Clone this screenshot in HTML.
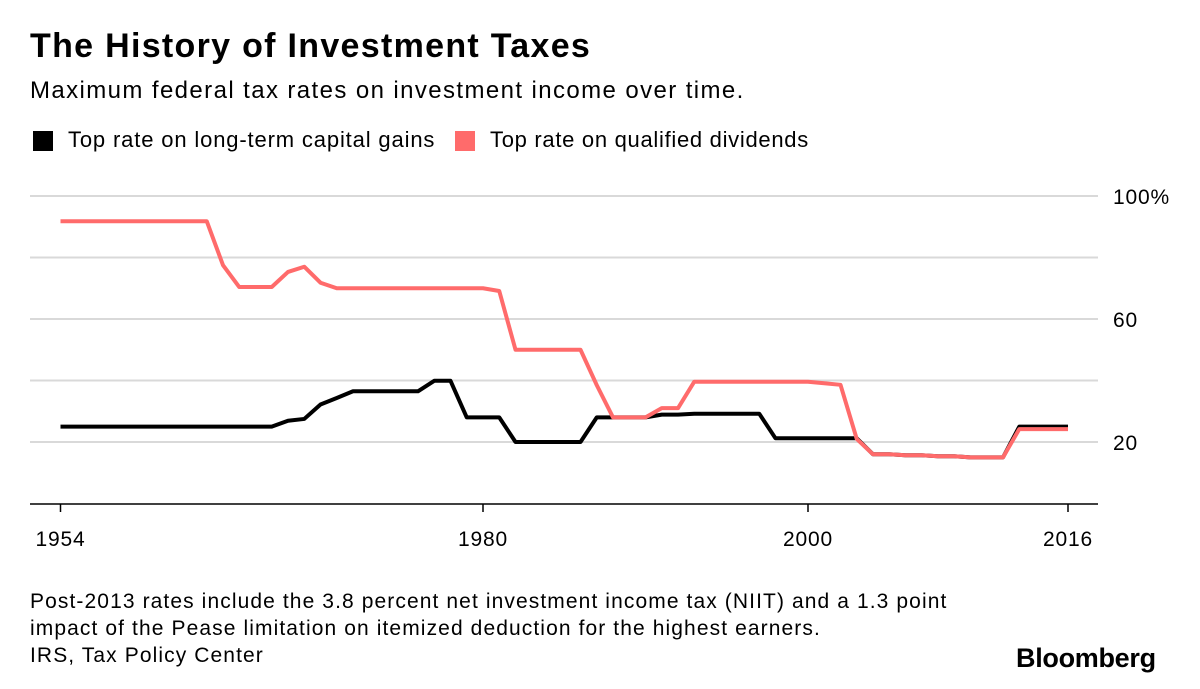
<!DOCTYPE html>
<html><head><meta charset="utf-8"><style>
body{margin:0;background:#fff;font-family:"Liberation Sans",Arial,sans-serif;}
#wrap{position:relative;width:1200px;height:689px;overflow:hidden;}
.t{position:absolute;white-space:nowrap;color:#000;}
</style></head><body>
<div id="wrap">
<div class="t" style="left:30px;top:27px;font-size:34px;letter-spacing:1.3px;font-weight:bold;">The History of Investment Taxes</div>
<div class="t" style="left:30px;top:77px;font-size:24px;letter-spacing:1.4px;">Maximum federal tax rates on investment income over time.</div>
<div style="position:absolute;left:33px;top:131px;width:20px;height:20px;background:#000;"></div>
<div class="t" style="left:68px;top:127px;font-size:22px;letter-spacing:0.85px;">Top rate on long-term capital gains</div>
<div style="position:absolute;left:455px;top:131px;width:20px;height:20px;background:#ff6b6b;"></div>
<div class="t" style="left:490px;top:127px;font-size:22px;letter-spacing:0.7px;">Top rate on qualified dividends</div>
<svg id="chart" width="1200" height="689" style="position:absolute;left:0;top:0;"></svg>
<div class="t" style="left:30px;top:588px;font-size:21px;letter-spacing:1.1px;line-height:27px;">Post-2013 rates include the 3.8 percent net investment income tax (NIIT) and a 1.3 point<br>impact of the Pease limitation on itemized deduction for the highest earners.<br>IRS, Tax Policy Center</div>
<div class="t" style="left:1016px;top:643px;font-size:27px;font-weight:bold;letter-spacing:-0.3px;">Bloomberg</div>
</div>
<script>
const years=[1954,1955,1956,1957,1958,1959,1960,1961,1962,1963,1964,1965,1966,1967,1968,1969,1970,1971,1972,1973,1974,1975,1976,1977,1978,1979,1980,1981,1982,1983,1984,1985,1986,1987,1988,1989,1990,1991,1992,1993,1994,1995,1996,1997,1998,1999,2000,2001,2002,2003,2004,2005,2006,2007,2008,2009,2010,2011,2012,2013,2014,2015,2016];
const capitalGains=[25,25,25,25,25,25,25,25,25,25,25,25,25,25,26.9,27.5,32.2,34.3,36.5,36.5,36.5,36.5,36.5,39.9,39.9,28,28,28,20,20,20,20,20,28,28,28,28,28.9,28.9,29.2,29.2,29.2,29.2,29.2,21.2,21.2,21.2,21.2,21.2,21.2,16,16,15.7,15.7,15.35,15.35,15,15,15,25,25,25,25];
const dividends=[91.8,91.8,91.8,91.8,91.8,91.8,91.8,91.8,91.8,91.8,77.5,70.4,70.4,70.4,75.3,77,71.8,70,70,70,70,70,70,70,70,70,70,69.1,50,50,50,50,50,38.5,28,28,28,31,31,39.6,39.6,39.6,39.6,39.6,39.6,39.6,39.6,39.1,38.6,21,16,16,15.7,15.7,15.35,15.35,15,15,15,24.2,24.2,24.2,24.2];
const yTicks=[20,40,60,80,100];
const yTickLabels=["20","","60","","100%"];
const xTicks=[1954,1980,2000,2016];
const NS="http://www.w3.org/2000/svg";
const svg=document.getElementById('chart');
const x=y=>60.5+(y-1954)*16.25;
const yS=v=>503.5-v*3.075;
function mk(tag,attrs){const e=document.createElementNS(NS,tag);for(const k in attrs)e.setAttribute(k,attrs[k]);svg.appendChild(e);return e;}
yTicks.forEach((t,i)=>{
  const l=mk('line',{x1:30,x2:1098,y1:yS(t),y2:yS(t),stroke:'#d9d9d9','stroke-width':2});
  
  
  if(yTickLabels[i]){
    const tx=mk('text',{x:1113,y:yS(t)+8,'font-size':21,'letter-spacing':0.8,'font-family':'Liberation Sans, sans-serif',fill:'#000'});
    tx.textContent=yTickLabels[i];
    
    
  }
});
const base=mk('line',{x1:30,x2:1098,y1:504,y2:504,stroke:'#000','stroke-width':1.5});


xTicks.forEach(t=>{
  const tk=mk('line',{x1:x(t),x2:x(t),y1:504,y2:512,stroke:'#000','stroke-width':1.5});
  
  
  const tx=mk('text',{x:x(t),y:546,'font-size':21,'letter-spacing':0.8,'text-anchor':'middle','font-family':'Liberation Sans, sans-serif',fill:'#000'});
  tx.textContent=t;
  
  
});
function line(vals,color,name){
  const p=mk('polyline',{points:vals.map((v,i)=>x(years[i])+','+yS(v)).join(' '),fill:'none',stroke:color,'stroke-width':4,'stroke-linejoin':'round'});
  
  
}
line(capitalGains,'#000','capital-gains-line');
line(dividends,'#ff6b6b','dividends-line');
</script>
</body></html>
